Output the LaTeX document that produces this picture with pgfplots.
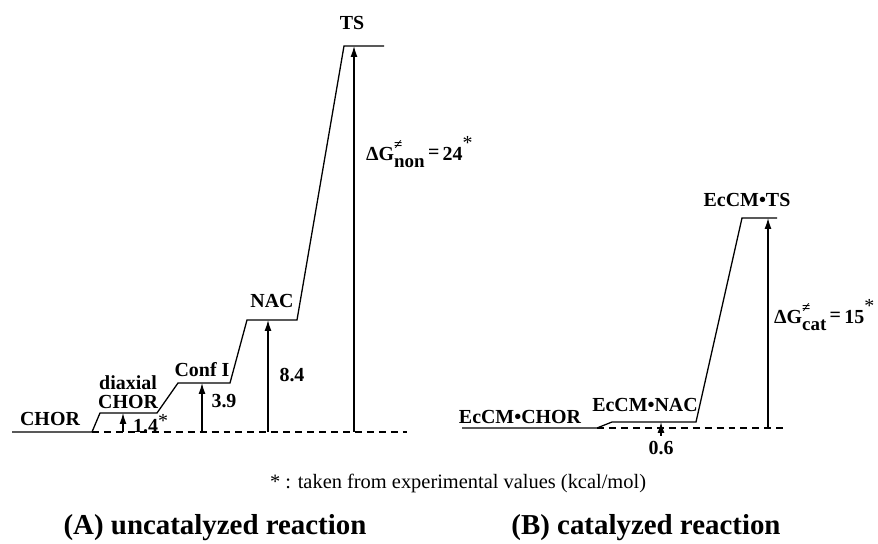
\documentclass[border=0pt]{standalone}
\usepackage{pgfplots}
\pgfplotsset{compat=1.18}
\usepackage{fontspec}
\setmainfont{Liberation Serif}
\usetikzlibrary{arrows.meta}
\newcommand{\dG}[2]{ΔG\makebox[0pt][l]{\raisebox{11pt}{\fontsize{15}{16}\selectfont ≠}}\raisebox{-7pt}{\fontsize{19}{20}\selectfont #1}\raisebox{2pt}{\,=}\,#2\raisebox{11pt}{\normalfont *}}
\begin{document}
\begin{tikzpicture}
\begin{axis}[
  width=878bp, height=544bp, scale only axis,
  xmin=0, xmax=878, ymin=0, ymax=544,
  hide axis, clip=false,
  every axis plot/.append style={line width=1.3pt, black},
]
% bounding box
\path (rel axis cs:0,0) rectangle (rel axis cs:1,1);
% (A) uncatalyzed energy profile
\addplot[mark=none] coordinates {(12,112) (92,112) (100,131) (157,131) (178,161) (230,161) (247,224) (297,224) (344,498) (384,498)};
\addplot[mark=none, dashed, dash pattern=on 7pt off 5pt] coordinates {(92,112) (407,112)};
\addplot[-{Latex[length=11pt,width=7pt]}] coordinates {(123,112) (123,131)};
\addplot[-{Latex[length=11pt,width=7pt]}] coordinates {(202,112) (202,161)};
\addplot[-{Latex[length=11pt,width=7pt]}] coordinates {(268,112) (268,224)};
\addplot[-{Latex[length=11pt,width=7pt]}] coordinates {(354,112) (354,498)};
% (B) catalyzed energy profile
\addplot[mark=none] coordinates {(462,116) (597,116) (612,122) (696,122) (742,326) (777,326)};
\addplot[mark=none, dashed, dash pattern=on 7pt off 5pt] coordinates {(597,116) (785,116)};
\addplot[-{Latex[length=11pt,width=7pt]}] coordinates {(661,108) (661,122)};
\addplot[-{Latex[length=11pt,width=7pt]}] coordinates {(768,116) (768,326)};
% labels
\begin{scope}[every node/.style={font=\fontsize{20}{22}\selectfont\bfseries, inner sep=0pt}]
\node at (axis cs:50,125) {CHOR};
\node at (axis cs:128,161) {diaxial};
\node at (axis cs:128,142) {CHOR};
\node[anchor=west] at (axis cs:133,120) {1.4\raisebox{5pt}{\normalfont *}};
\node at (axis cs:224,143) {3.9};
\node at (axis cs:202,174) {Conf I};
\node at (axis cs:272,243) {NAC};
\node at (axis cs:292,169) {8.4};
\node at (axis cs:352,521) {TS};
\node[anchor=west] at (axis cs:366,392) {\dG{non}{24}};
\node at (axis cs:520,127) {EcCM•CHOR};
\node at (axis cs:645,139) {EcCM•NAC};
\node at (axis cs:747,344) {EcCM•TS};
\node[anchor=west] at (axis cs:774,229) {\dG{cat}{15}};
\node at (axis cs:661,96) {0.6};
\end{scope}
\node[font=\fontsize{20.5}{22}\selectfont, inner sep=0pt] at (axis cs:458,61) {* : taken from experimental values (kcal/mol)};
\node[font=\fontsize{29}{31}\selectfont\bfseries, inner sep=0pt] at (axis cs:215,16) {(A) uncatalyzed reaction};
\node[font=\fontsize{29}{31}\selectfont\bfseries, inner sep=0pt] at (axis cs:646,16) {(B) catalyzed reaction};
\end{axis}
\end{tikzpicture}
\end{document}
